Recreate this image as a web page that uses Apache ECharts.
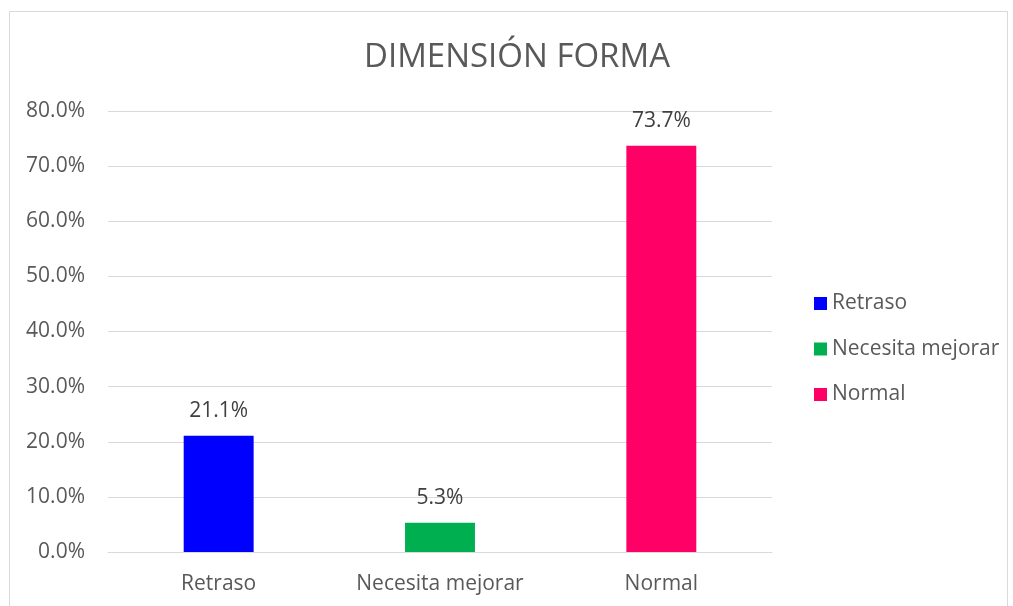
<!DOCTYPE html>
<html><head><meta charset="utf-8">
<script src="https://cdn.jsdelivr.net/npm/echarts@6/dist/echarts.min.js"></script>
<style>html,body{margin:0;padding:0;background:#fff}#c{width:1013px;height:606px}</style>
</head><body><div id="c"></div>
<script>
const categories = ['Retraso', 'Necesita mejorar', 'Normal'];
const values = [21.1, 5.3, 73.7];
const colors = ['#0000FF', '#00B050', '#FF0066'];
const yTicks = [0, 10, 20, 30, 40, 50, 60, 70, 80];

const FONT = 'Open Sans';
const FS = 21;
const chart = echarts.init(document.getElementById('c'));
const series = categories.map((name, i) => ({
  name: name,
  type: 'bar',
  stack: 'all',
  barWidth: '31.6%',
  itemStyle: { color: colors[i] },
  label: { show: true, position: 'top', distance: 14, formatter: p => p.value.toFixed(1) + '%', color: '#404040', fontSize: FS, fontFamily: FONT },
  data: categories.map((c, j) => j === i ? values[i] : null)
}));
chart.setOption({
  animation: false,
  title: { text: 'DIMENSIÓN FORMA', left: 512, textAlign: 'center', top: 36, textStyle: { fontFamily: FONT, fontSize: 33, fontWeight: 'normal', color: '#595959' } },
  graphic: [{ type: 'rect', shape: { x: 9.5, y: 11.5, width: 998, height: 610 }, style: { fill: 'none', stroke: '#d9d9d9', lineWidth: 1 }, silent: true }],
  legend: {
    orient: 'vertical', left: 809, top: 288, itemGap: 24.5, itemWidth: 13, itemHeight: 13,
    icon: 'rect',
    textStyle: { fontFamily: FONT, fontSize: FS, color: '#595959', padding: [0, 0, 0, 0] },
    data: categories
  },
  grid: { left: 108, right: 1013 - 772, top: 111, bottom: 606 - 552 },
  xAxis: {
    type: 'category', data: categories,
    axisLine: { lineStyle: { color: '#d9d9d9' } }, axisTick: { show: false },
    axisLabel: { fontFamily: FONT, fontSize: FS, color: '#595959', margin: 22 }
  },
  yAxis: {
    type: 'value', min: yTicks[0], max: yTicks[yTicks.length - 1], interval: 10,
    axisLine: { show: false }, axisTick: { show: false },
    splitLine: { lineStyle: { color: '#d9d9d9' } },
    axisLabel: { fontFamily: FONT, fontSize: FS, color: '#595959', margin: 23, formatter: v => v.toFixed(1) + '%' }
  },
  series: series
});
</script></body></html>
